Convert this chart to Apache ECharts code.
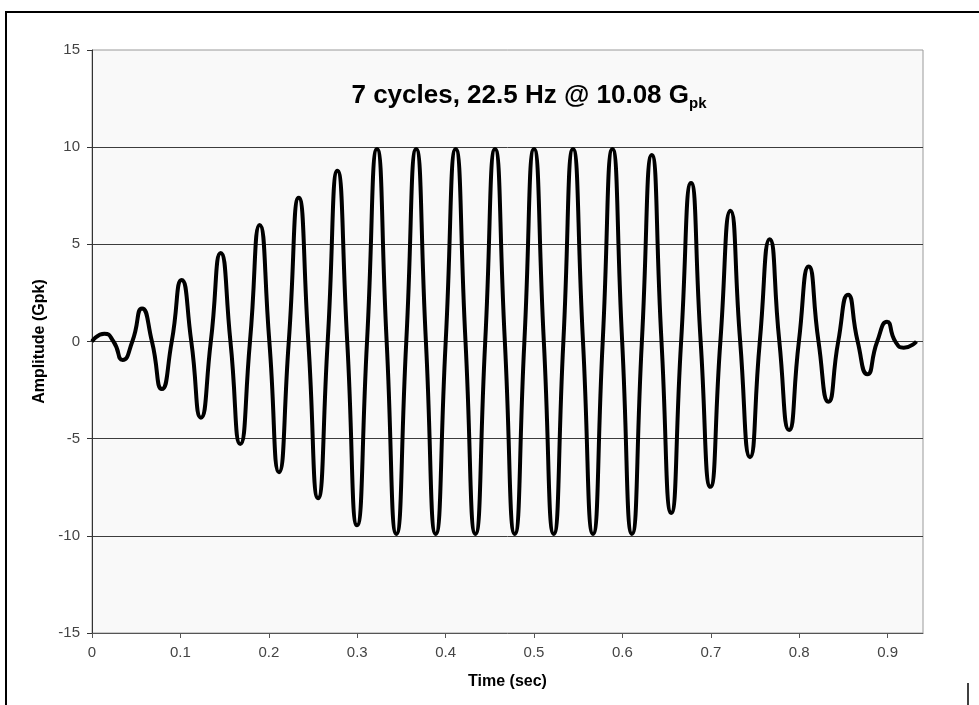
<!DOCTYPE html>
<html>
<head>
<meta charset="utf-8">
<script src="https://cdn.jsdelivr.net/npm/echarts@6/dist/echarts.min.js"></script>
<style>
html,body{margin:0;padding:0;background:#fff;}
#chart{width:979px;height:705px;}
</style>
</head>
<body>
<div id="chart"></div>
<script>
// Time (sec) of each read point: peaks, troughs and zero crossings
const timeSec = [
  0.0000, 0.0140, 0.0243, 0.0347, 0.0456, 0.0566, 0.0678, 0.0790, 0.0902, 0.1014,
  0.1123, 0.1232, 0.1344, 0.1456, 0.1566, 0.1677, 0.1787, 0.1897, 0.2006, 0.2115,
  0.2226, 0.2338, 0.2447, 0.2557, 0.2666, 0.2776, 0.2887, 0.2998, 0.3111, 0.3224,
  0.3333, 0.3443, 0.3555, 0.3667, 0.3777, 0.3888, 0.4001, 0.4114, 0.4225, 0.4337,
  0.4448, 0.4559, 0.4670, 0.4782, 0.4891, 0.5000, 0.5111, 0.5223, 0.5332, 0.5441,
  0.5554, 0.5667, 0.5777, 0.5887, 0.5997, 0.6108, 0.6220, 0.6332, 0.6442, 0.6552,
  0.6664, 0.6776, 0.6885, 0.6995, 0.7108, 0.7222, 0.7332, 0.7443, 0.7554, 0.7666,
  0.7775, 0.7885, 0.7996, 0.8107, 0.8218, 0.8330, 0.8441, 0.8552, 0.8661, 0.8771,
  0.8882, 0.8993, 0.9087, 0.9182, 0.9326
];
// Amplitude (Gpk) at those times
const amplitudeGpk = [
  0, 0.40, 0, -0.95, 0, 1.70, 0, -2.45, 0, 3.17,
  0, -3.92, 0, 4.56, 0, -5.28, 0, 6.00, 0, -6.73,
  0, 7.40, 0, -8.07, 0, 8.79, 0, -9.46, 0, 9.90,
  0, -9.90, 0, 9.90, 0, -9.90, 0, 9.90, 0, -9.90,
  0, 9.90, 0, -9.90, 0, 9.90, 0, -9.90, 0, 9.90,
  0, -9.90, 0, 9.90, 0, -9.90, 0, 9.60, 0, -8.82,
  0, 8.15, 0, -7.48, 0, 6.73, 0, -5.95, 0, 5.26,
  0, -4.56, 0, 3.86, 0, -3.10, 0, 2.41, 0, -1.69,
  0, 1.01, 0, -0.32, 0
];
const xTicks = [0, 0.1, 0.2, 0.3, 0.4, 0.5, 0.6, 0.7, 0.8, 0.9];
const titleMain = '7 cycles, 22.5 Hz @ 10.08 G';
const titleSub = 'pk';
const xName = 'Time (sec)';
const yName = 'Amplitude (Gpk)';

const FONT = "'Liberation Sans', Arial, Helvetica, sans-serif";
const chart = echarts.init(document.getElementById('chart'), null, {renderer: 'canvas'});
chart.setOption({
  animation: false,
  backgroundColor: '#ffffff',
  textStyle: {fontFamily: FONT},
  grid: {
    left: 92, top: 50, right: 56, bottom: 72,
    show: true, backgroundColor: '#f9f9f9', borderColor: '#9a9a9a', borderWidth: 1,
    containLabel: false
  },
  graphic: [
    {type: 'line', silent: true, z: 100,
      shape: {x1: 5, y1: 12, x2: 979, y2: 12},
      style: {stroke: '#000', lineWidth: 2}},
    {type: 'line', silent: true, z: 100,
      shape: {x1: 6, y1: 11, x2: 6, y2: 705},
      style: {stroke: '#000', lineWidth: 2}},
    {type: 'line', silent: true, z: 100,
      shape: {x1: 968, y1: 683, x2: 968, y2: 705},
      style: {stroke: '#000', lineWidth: 1.5}},
    {type: 'text', x: 529, y: 96, z: 100, silent: true,
      style: {
        text: '{m|' + titleMain + '}{s|' + titleSub + '}',
        textAlign: 'center', textVerticalAlign: 'middle',
        rich: {
          m: {fontFamily: FONT, fontSize: 26, fontWeight: 'bold', fill: '#000', lineHeight: 30},
          s: {fontFamily: FONT, fontSize: 15, fontWeight: 'bold', fill: '#000', lineHeight: 30, verticalAlign: 'bottom'}
        }
      }}
  ],
  xAxis: {
    type: 'value', min: 0, max: 0.94,
    name: xName, nameLocation: 'middle', nameGap: 41,
    nameTextStyle: {fontFamily: FONT, fontSize: 16, fontWeight: 'bold', color: '#000'},
    axisLine: {show: true, onZero: false, lineStyle: {color: '#555', width: 1}},
    axisTick: {show: true, length: 5, lineStyle: {color: '#555'}, customValues: xTicks},
    axisLabel: {customValues: xTicks, margin: 12, fontFamily: FONT, fontSize: 15, color: '#444',
      formatter: v => (v === 0 ? '0' : String(v))},
    splitLine: {show: false}
  },
  yAxis: {
    type: 'value', min: -15, max: 15, interval: 5,
    name: yName, nameLocation: 'middle', nameGap: 41, nameRotate: 90,
    nameTextStyle: {fontFamily: FONT, fontSize: 16, fontWeight: 'bold', color: '#000'},
    axisLine: {show: true, onZero: false, lineStyle: {color: '#333', width: 1}},
    axisTick: {show: true, length: 5, lineStyle: {color: '#333'}},
    axisLabel: {margin: 12, fontFamily: FONT, fontSize: 15, color: '#444'},
    splitLine: {show: true, showMinLine: false, showMaxLine: false, lineStyle: {color: '#3c3c3c', width: 1}}
  },
  series: [{
    type: 'line',
    data: timeSec.map((t, i) => [t, amplitudeGpk[i]]),
    showSymbol: false, symbol: 'none',
    smooth: 0.6,
    lineStyle: {color: '#000', width: 4},
    clip: true
  }]
});
</script>
</body>
</html>
